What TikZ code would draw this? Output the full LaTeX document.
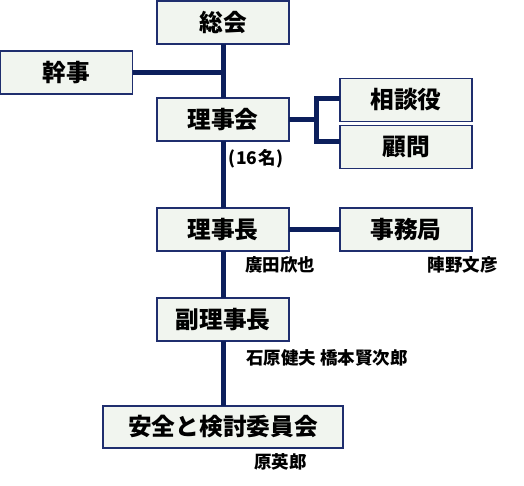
\documentclass[tikz,border=0pt]{standalone}
\usepackage{fontspec}
\newfontfamily\jpfont{Noto Sans CJK JP}
\usetikzlibrary{positioning, calc}

\definecolor{linenavy}{HTML}{0C1F5C}
\definecolor{boxline}{HTML}{1F2E6E}
\definecolor{boxfill}{HTML}{F1F5EF}

\begin{document}
\begin{tikzpicture}[
  x=1pt, y=1pt,
  orgbox/.style={
    draw=boxline, fill=boxfill, line width=1.2pt,
    font=\jpfont\bfseries\fontsize{23.7}{23.7}\selectfont,
    minimum width=132pt, minimum height=43pt,
    inner sep=0pt, outer sep=0pt, align=center
  },
  memo/.style={
    font=\jpfont\bfseries\fontsize{17.5}{17.5}\selectfont,
    inner sep=0pt, anchor=west
  },
  conn/.style={draw=linenavy, line width=5pt}
]
\useasboundingbox (0,0) rectangle (524,-486);

%% top: general meeting, secretary, board
\node[orgbox] (soukai) at (223,-22.5) {総会};
\node[orgbox, below left=7pt and 24.4pt of soukai] (kanji) {幹事};
\node[orgbox, below=54pt of soukai] (rijikai) {理事会};

%% advisers
\node[orgbox, right=51pt of rijikai, yshift=19.5pt] (soudan) {相談役};
\node[orgbox, below=4pt of soudan] (komon) {顧問};

%% chairman and office
\node[orgbox, below=67pt of rijikai] (richou) {理事長};
\node[orgbox, right=51pt of richou] (jimu) {事務局};

%% vice chairman, committee
\node[orgbox, below=47pt of richou] (fukurichou) {副理事長};
\node[orgbox, below=65pt of fukurichou,
      minimum width=240pt, minimum height=42pt] (anzen) {安全と検討委員会};

%% names
\node[memo, font=\jpfont\bfseries\fontsize{17.5}{17.5}\selectfont]
  (ninzu) at ([xshift=5pt,yshift=-18pt]rijikai.south)
  {(\kern1pt16\kern0.5pt名\kern0.5pt)};
\node[memo] (hirota) at ([xshift=22pt,yshift=-13.5pt]richou.south) {廣田欣也};
\node[memo] (jinno) at ([xshift=21.5pt,yshift=-13.5pt]jimu.south) {陣野文彦};
\node[memo] (ishihara) at ([xshift=23pt,yshift=-16.5pt]fukurichou.south)
  {石原健夫 橋本賢次郎};
\node[memo] (hara) at ([xshift=31pt,yshift=-14pt]anzen.south) {原英郎};

%% connectors
\draw[conn] (soukai) -- (rijikai);
\draw[conn] (kanji) -- (kanji -| soukai);
\coordinate[right=27pt of rijikai.east] (brk);
\draw[conn] (rijikai.east) -- (brk);
\draw[conn] ([yshift=1pt]soudan.west) -| ([yshift=5.5pt]komon.west -| brk)
  -- ([yshift=5.5pt]komon.west);
\draw[conn] (rijikai) -- (richou);
\draw[conn] (richou) -- (jimu);
\draw[conn] (richou) -- (fukurichou);
\draw[conn] (fukurichou) -- (anzen);

\end{tikzpicture}
\end{document}
